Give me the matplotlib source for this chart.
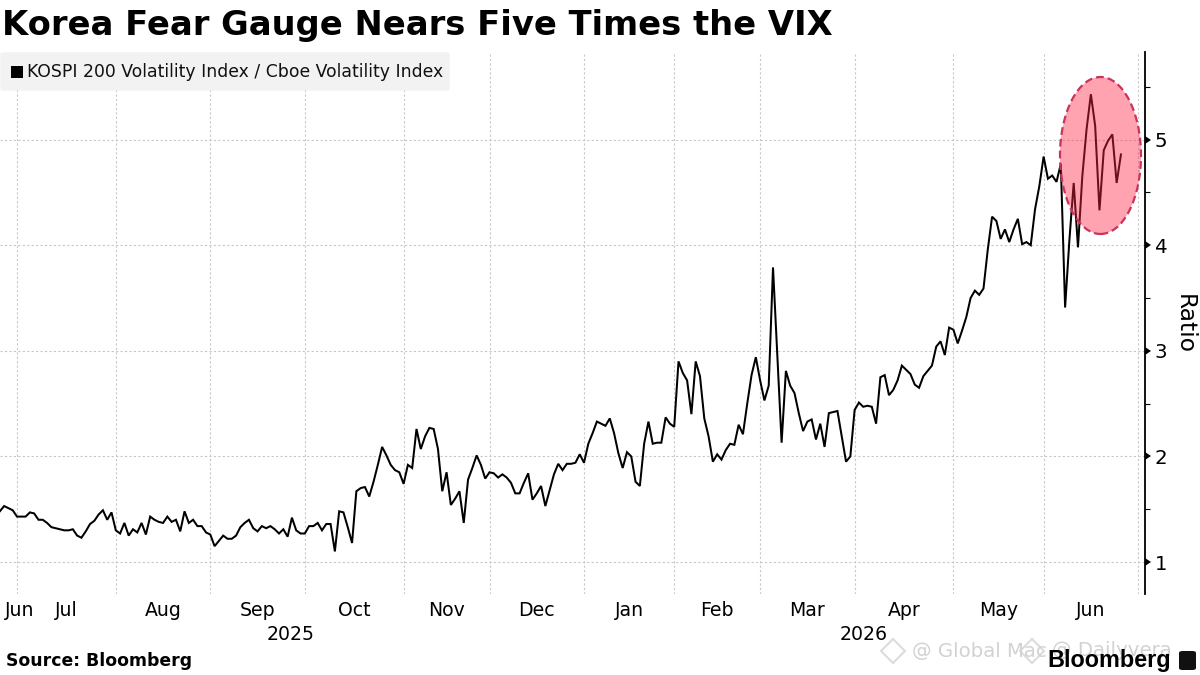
import matplotlib
matplotlib.use("Agg")
import matplotlib.pyplot as plt
from matplotlib.patches import Ellipse, FancyBboxPatch, Rectangle
from matplotlib.lines import Line2D
from matplotlib.markers import CARETRIGHTBASE
import pandas as pd

TITLE = "Korea Fear Gauge Nears Five Times the VIX"
SERIES_NAME = "KOSPI 200 Volatility Index / Cboe Volatility Index"
SOURCE = "Source: Bloomberg"
Y_LABEL = "Ratio"
START_DATE = "2025-06-25"

ratio_2025_h2 = [
    1.48,1.53,1.51,1.49,1.43,1.43,1.43,1.47,1.46,1.40,1.40,1.37,1.33,1.32,1.31,1.30,1.30,1.31,1.25,1.23,
    1.29,1.36,1.39,1.45,1.49,1.40,1.47,1.30,1.27,1.37,1.25,1.31,1.28,1.37,1.26,1.43,1.40,1.38,1.37,1.43,
    1.38,1.40,1.29,1.48,1.37,1.40,1.34,1.34,1.28,1.26,1.15,1.20,1.25,1.22,1.22,1.25,1.33,1.37,1.40,1.32,
    1.29,1.34,1.32,1.34,1.31,1.27,1.31,1.24,1.42,1.30,1.27,1.27,1.34,1.34,1.37,1.30,1.36,1.36,1.10,1.48,
    1.47,1.33,1.18,1.67,1.70,1.71,1.62,1.76,1.92,2.09,2.01,1.92,1.87,
]
ratio_nov_feb = [
    1.85,1.74,1.92,1.89,2.26,2.07,2.19,2.27,2.26,2.07,1.67,1.85,1.54,1.60,1.67,1.37,1.78,1.89,2.01,1.92,
    1.79,1.85,1.84,1.80,1.83,1.80,1.75,1.65,1.65,1.75,1.84,1.59,1.65,1.72,1.53,1.68,1.83,1.93,1.87,1.93,
    1.93,1.94,2.02,1.94,2.12,2.22,2.33,2.31,2.29,2.36,2.22,2.03,1.89,2.04,2.00,1.76,1.72,2.12,2.33,2.12,
    2.13,2.13,2.37,2.31,2.28,2.90,2.79,2.72,2.40,2.90,2.76,
]
ratio_feb_apr = [
    2.36,2.19,1.95,2.02,1.97,2.06,2.12,2.11,2.30,2.21,2.50,2.77,2.94,2.72,2.53,2.67,3.79,2.97,2.13,2.81,
    2.67,2.60,2.41,2.24,2.33,2.35,2.16,2.31,2.09,2.41,2.42,2.43,2.19,1.95,2.00,2.44,2.51,2.47,2.48,2.47,
    2.31,2.75,2.77,2.58,2.63,2.72,2.86,2.82,2.78,2.68,2.65,2.76,2.81,2.86,3.04,3.09,2.96,
]
ratio_may_jun = [
    3.22,3.20,3.07,3.19,3.32,3.50,3.57,3.53,3.59,3.96,4.27,4.23,4.06,4.15,4.03,4.15,4.25,4.01,4.03,4.00,
    4.34,4.56,4.84,4.63,4.66,4.60,4.77,3.41,4.05,4.59,3.98,4.65,5.10,5.43,5.13,4.33,4.90,4.99,5.05,4.59,4.86,
]
ratio = ratio_2025_h2 + ratio_nov_feb + ratio_feb_apr + ratio_may_jun

month_labels = ["Jul","Aug","Sep","Oct","Nov","Dec","Jan","Feb","Mar","Apr","May","Jun"]
month_starts = ["2025-07-01","2025-08-01","2025-09-02","2025-10-02","2025-11-04","2025-12-02","2026-01-01",
                "2026-01-30","2026-02-27","2026-03-31","2026-05-01","2026-06-01","2026-07-01"]
y_major = [1, 2, 3, 4, 5]
y_minor = [1.5, 2.5, 3.5, 4.5, 5.5]

dates = pd.bdate_range(START_DATE, periods=300)
def pos(d):
    return int(dates.searchsorted(pd.Timestamp(d)))
grid_x = [pos(d) for d in month_starts]
index = list(range(len(ratio)))

W, H = 1200, 675
FONT = "DejaVu Sans"
fig = plt.figure(figsize=(12, 6.75), dpi=100, facecolor="white")
ax = fig.add_axes([0, 1 - 594 / H, 1145 / W, 542 / H])
ax.set_xlim(0.04, 266.6)
ax.set_ylim(0.697, 5.83)
for s in ["top", "left", "bottom"]:
    ax.spines[s].set_visible(False)
ax.spines["right"].set_linewidth(1.3)
ax.yaxis.tick_right()
ax.set_yticks(y_major)
ax.set_yticks(y_minor, minor=True)
ax.set_yticklabels([str(v) for v in y_major], fontsize=14.2, family=FONT)
ax.tick_params(axis="y", which="major", length=0, pad=7)
ax.tick_params(axis="y", which="minor", length=3.5, width=0.8)
ax.tick_params(axis="x", length=0, labelbottom=False)
ax.plot([1] * len(y_major), y_major, ls="", marker=CARETRIGHTBASE, ms=5.5, color="black", mew=0,
        transform=ax.get_yaxis_transform(), clip_on=False, zorder=6)
ax.set_xticks(grid_x)
ax.grid(True, color="#c8c8c8", lw=0.8, ls=(0, (2, 2)))
ax.set_axisbelow(True)
ax.plot(index, ratio, color="black", lw=1.45, solid_joinstyle="miter", zorder=3)

ell = Ellipse((1100.5 / W, 1 - 155.5 / H), 81 / W, 157 / H, transform=fig.transFigure,
              facecolor=(1.0, 0.14, 0.27, 0.42), edgecolor="none", zorder=4)
ax.add_patch(ell)
ell2 = Ellipse((1100.5 / W, 1 - 155.5 / H), 81 / W, 157 / H, transform=fig.transFigure,
               facecolor="none", edgecolor="#c9335c", lw=1.6, ls=(0, (3.5, 1.8)), zorder=5)
ax.add_patch(ell2)

def txt(x, y, s, **kw):
    kw.setdefault("family", FONT)
    kw.setdefault("va", "center")
    return fig.text(x / W, 1 - y / H, s, **kw)

txt(2, 26, TITLE, fontsize=24.35, fontweight="bold", color="black")

fig.add_artist(FancyBboxPatch((1 / W, 1 - 90 / H), 448 / W, 37 / H, transform=fig.transFigure,
                              boxstyle="round,pad=0,rounding_size=0.002", fc="#f2f2f2", ec="#f2f2f2", lw=1, zorder=2))
fig.add_artist(Rectangle((11 / W, 1 - 78 / H), 12 / W, 12 / H, transform=fig.transFigure, fc="black", ec="none", zorder=3))
txt(27, 72, SERIES_NAME, fontsize=12.4, color="#111111", zorder=3)

for lab, a, b in zip(month_labels, grid_x[:-1], grid_x[1:]):
    ax.annotate(lab, xy=((a + b) / 2, 0), xycoords=ax.get_xaxis_transform(), xytext=(0, -16),
                textcoords="offset pixels", ha="center", va="center", fontsize=13.6, family=FONT, annotation_clip=False)
txt(20, 610, "Jun", fontsize=13.6, ha="center")
txt(291, 635, "2025", fontsize=13.6, ha="center")
txt(864, 635, "2026", fontsize=13.6, ha="center")
txt(1184, 324, Y_LABEL, fontsize=16.8, rotation=-90, ha="center")

txt(6, 661, SOURCE, fontsize=12.45, fontweight="bold")

# faint watermark, behind the Bloomberg wordmark
for wx in (893, 1032):
    fig.add_artist(Line2D([wx / W], [1 - 651 / H], transform=fig.transFigure, marker="D", ms=12,
                          mfc="none", mec="#dcdcdc", mew=1.5, ls="", zorder=1))
txt(912, 651, "@ Global Mac", fontsize=14.2, color="#d2d2d2", zorder=1)
txt(1052, 651, "@ Dailyvera", fontsize=14.2, color="#d2d2d2", zorder=1)

txt(1109, 660, "Bloomberg", fontsize=16.8, fontweight="bold", family="Liberation Sans", ha="center", zorder=5)
fig.add_artist(FancyBboxPatch((1179 / W, 1 - 670 / H), 17 / W, 19 / H, transform=fig.transFigure,
                              boxstyle="round,pad=0,rounding_size=0.003", fc="#111111", ec="none", zorder=5))

fig.savefig("out.png", dpi=100)
